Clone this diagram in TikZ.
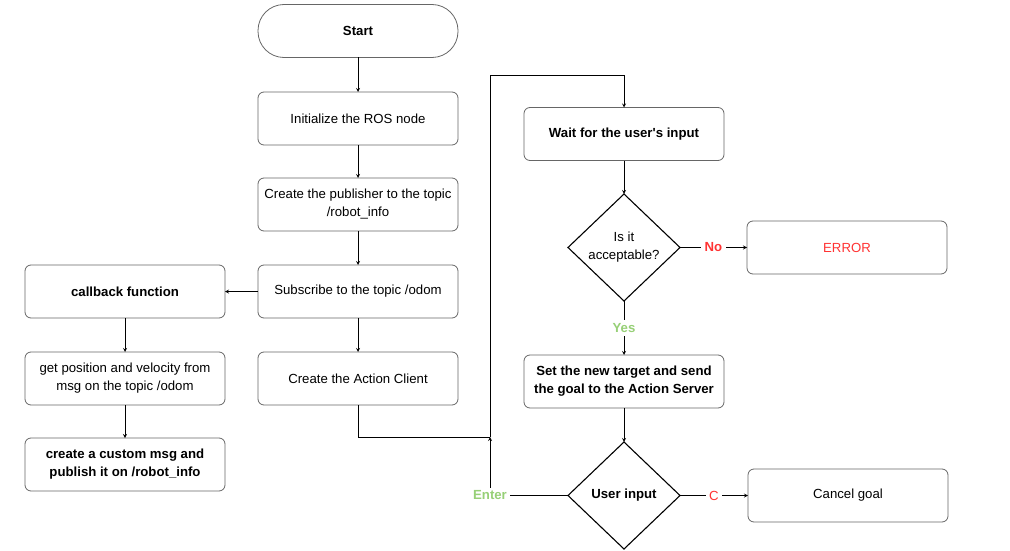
\documentclass[tikz,border=0pt]{standalone}
\usepackage{fontspec}
\setmainfont{Liberation Sans}
\usetikzlibrary{positioning,shapes.geometric}
\definecolor{errred}{HTML}{FF3333}
\definecolor{okgreen}{HTML}{97D077}
\def\flowfont{\fontsize{13.2}{18}\selectfont}
\tikzset{
every path/.style={line width=0.8pt}
, every node/.style={font=\flowfont}
, stepbox/.style={draw=black!60,rounded corners=6pt,minimum width=200pt,minimum height=53pt,align=center,inner sep=2pt,outer sep=0pt}
, boldbox/.style={stepbox,font=\flowfont\bfseries}
, startbox/.style={boldbox,rounded corners=26pt}
, decision/.style={diamond,draw=black,line width=1.1pt,minimum width=112pt,minimum height=107pt,inner sep=0pt,outer sep=0pt,align=center}
, yeslabel/.style={fill=white,text=okgreen,font=\flowfont\bfseries}
, nolabel/.style={fill=white,text=errred,font=\flowfont\bfseries}}

\begin{document}
\begin{tikzpicture}[x=1pt,y=-1pt]
\useasboundingbox (0,0) rectangle (1010,551);
% main column
\node[startbox] at (358,31) (start) {Start};
\node[stepbox,below=34.5pt of start] (init) {Initialize the ROS node};
\node[stepbox,below=33pt of init] (pub) {Create the publisher to the topic\\/robot\_info};
\node[stepbox,below=34pt of pub] (sub) {Subscribe to the topic /odom};
\node[stepbox,below=34pt of sub] (action) {Create the Action Client};
% callback column
\node[boldbox,left=33pt of sub] (callback) {callback function};
\node[stepbox,below=34pt of callback] (getpos) {get position and velocity from\\msg on the topic /odom};
\node[boldbox,below=33pt of getpos] (custom) {create a custom msg and\\publish it on /robot\_info};
% user loop
\node[boldbox] at (624,134) (wait) {Wait for the user\textquotesingle s input};
\node[decision,below=33.5pt of wait] (ask) {Is it\\acceptable?};
\node[stepbox,text=errred,right=67pt of ask] (error) {ERROR};
\node[boldbox,below=54pt of ask] (target) {Set the new target and send\\the goal to the Action Server};
\node[decision,font=\flowfont\bfseries,below=34pt of target] (userin) {User input};
\node[stepbox,right=68pt of userin] (cancel) {Cancel goal};
\coordinate (join) at (490,437);
\coordinate (looptop) at (490,75);
\draw [-stealth] (start) edge (init);
\draw [-stealth] (init) edge (pub);
\draw [-stealth] (pub) edge (sub);
\draw [-stealth] (sub) edge (action);
\draw [-stealth] (sub) edge (callback);
\draw [-stealth] (callback) edge (getpos);
\draw [-stealth] (getpos) edge (custom);
\draw (action) |- (join);
\draw [-stealth] (join) -- (looptop) -| (wait.north);
\draw [-stealth] (wait) edge (ask);
\draw [-stealth] (ask) edge node[nolabel] {No} (error);
\draw [-stealth] (ask) edge node[yeslabel] {Yes} (target);
\draw [-stealth] (target) edge (userin);
\draw [-stealth] (userin) edge node[nolabel,font=\flowfont] {C} (cancel);
\draw [-stealth] (userin) -| node[yeslabel] {Enter} (join);
\end{tikzpicture}
\end{document}
